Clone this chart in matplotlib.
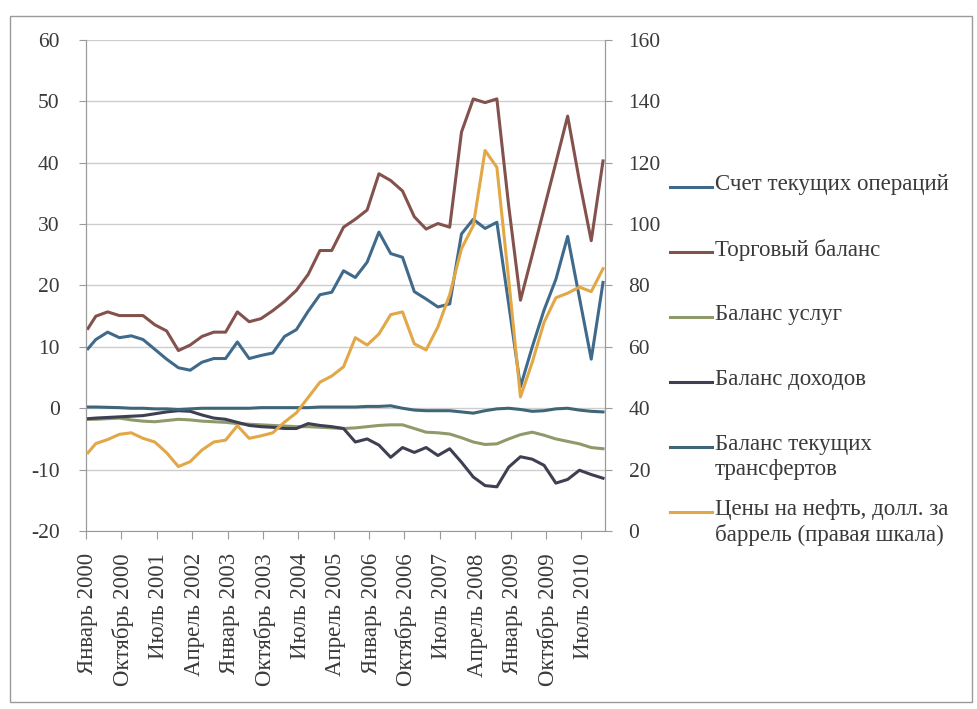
import matplotlib
matplotlib.use("Agg")
import matplotlib.pyplot as plt
from matplotlib.lines import Line2D
from matplotlib.patches import Rectangle

plt.rcParams['font.family'] = ['Liberation Serif', 'DejaVu Serif']
plt.rcParams['axes.unicode_minus'] = False

# month index (0 = январь 2000); quarterly values sit on the last month of each quarter
months = [0] + list(range(2, 132, 3))

tick_labels = ["Январь 2000", "Октябрь 2000", "Июль 2001", "Апрель 2002", "Январь 2003",
               "Октябрь 2003", "Июль 2004", "Апрель 2005", "Январь 2006", "Октябрь 2006",
               "Июль 2007", "Апрель 2008", "Январь 2009", "Октябрь 2009", "Июль 2010"]

# млрд долл. (левая шкала)
current_account = [9.7, 11.2, 12.4, 11.5, 11.8, 11.2, 9.6, 8.0, 6.6, 6.2, 7.5, 8.1, 8.1,
                   10.8, 8.1, 8.6, 9.0, 11.7, 12.8, 15.8, 18.5, 18.9, 22.4, 21.3, 23.8,
                   28.7, 25.2, 24.6, 19.0, 17.8, 16.5, 17.0, 28.4, 30.8, 29.3, 30.3, 17.0,
                   3.5, 10.0, 16.0, 21.0, 28.0, 18.0, 8.0, 20.5]
trade_balance = [13.0, 15.0, 15.7, 15.1, 15.1, 15.1, 13.6, 12.6, 9.4, 10.3, 11.7, 12.4, 12.4,
                 15.7, 14.1, 14.6, 15.9, 17.4, 19.2, 21.8, 25.7, 25.7, 29.5, 30.8, 32.3,
                 38.2, 37.1, 35.4, 31.2, 29.2, 30.1, 29.5, 45.0, 50.4, 49.8, 50.4, 33.0,
                 17.6, 25.0, 32.5, 40.0, 47.6, 37.0, 27.3, 40.3]
services = [-1.8, -1.8, -1.7, -1.6, -1.9, -2.1, -2.2, -2.0, -1.8, -1.9, -2.1, -2.2, -2.3,
            -2.5, -2.6, -2.7, -2.8, -2.9, -3.0, -3.0, -3.1, -3.2, -3.3, -3.2, -3.0,
            -2.8, -2.7, -2.7, -3.3, -3.9, -4.0, -4.2, -4.8, -5.5, -5.9, -5.8, -5.0,
            -4.3, -3.9, -4.4, -5.0, -5.4, -5.8, -6.4, -6.6]
income = [-1.7, -1.6, -1.5, -1.4, -1.3, -1.2, -0.9, -0.6, -0.4, -0.5, -1.1, -1.6, -1.8,
          -2.3, -2.8, -3.0, -3.1, -3.3, -3.3, -2.5, -2.8, -3.0, -3.3, -5.5, -5.0,
          -6.0, -8.0, -6.4, -7.2, -6.4, -7.7, -6.6, -8.8, -11.2, -12.6, -12.8, -9.6,
          -7.9, -8.3, -9.3, -12.2, -11.6, -10.1, -10.8, -11.4]
transfers = [0.2, 0.2, 0.15, 0.1, 0.0, 0.0, -0.1, -0.1, -0.2, -0.1, 0.0, 0.0, 0.0,
             0.0, 0.0, 0.1, 0.1, 0.1, 0.1, 0.1, 0.2, 0.2, 0.2, 0.2, 0.3,
             0.3, 0.4, 0.0, -0.3, -0.4, -0.4, -0.4, -0.6, -0.8, -0.4, -0.1, 0.0,
             -0.2, -0.5, -0.4, -0.1, 0.0, -0.3, -0.5, -0.6]
# долл. за баррель (правая шкала)
oil = [25.5, 28.5, 29.8, 31.5, 32.0, 30.2, 29.0, 25.5, 21.0, 22.6, 26.4, 29.0, 29.6,
       34.3, 30.2, 31.0, 32.0, 35.5, 38.5, 43.5, 48.5, 50.5, 53.5, 63.0, 60.6,
       64.2, 70.5, 71.4, 61.0, 59.0, 66.5, 77.0, 92.0, 99.5, 124.0, 118.5, 82.0,
       43.7, 55.0, 68.0, 76.0, 77.5, 79.5, 78.0, 85.5]

names = ["Счет текущих операций", "Торговый баланс", "Баланс услуг", "Баланс доходов",
         "Баланс текущих\nтрансфертов", "Цены на нефть, долл. за\nбаррель (правая шкала)"]
colors = ["#3f6a8c", "#84524c", "#8e9a6a", "#3e3f52", "#3f6579", "#e2a747"]
left_series = [current_account, trade_balance, services, income, transfers]

W, H = 978, 709
fig = plt.figure(figsize=(W / 100, H / 100), dpi=100)
fig.patches.append(Rectangle((10 / W, 1 - 702 / H), 962 / W, 686 / H,
                             transform=fig.transFigure, fill=False,
                             edgecolor="#9a9a9a", lw=1.0))

ax = fig.add_axes([86 / W, 1 - 531 / H, 519 / W, 491 / H])
ax2 = ax.twinx()

for vals, c in zip(left_series, colors[:5]):
    ax.plot(months, vals, color=c, lw=2.2, solid_joinstyle="round", zorder=3)
ax2.plot(months, oil, color=colors[5], lw=2.2, solid_joinstyle="round", zorder=3)

txt = "#3a3a3a"
ax.set_xlim(-0.5, 131.5)
ax.set_ylim(-20, 60)
ax.set_yticks(range(-20, 61, 10))
ax2.set_ylim(0, 160)
ax2.set_yticks(range(0, 161, 20))
ax.grid(axis="y", color="#cdcdcd", lw=1.0)
ax.set_axisbelow(True)

# tick marks on category boundaries, labels on the categories
ax.set_xticks([m - 0.5 for m in range(0, 132, 9)])
ax.set_xticklabels([])
ax.set_xticks(list(range(0, 132, 9)), minor=True)
ax.set_xticklabels(tick_labels, minor=True, rotation=90, fontsize=16.5, color=txt)
ax.tick_params(axis="x", which="major", length=6, color="#9a9a9a", direction="out")
ax.tick_params(axis="x", which="minor", length=0, pad=16)
ax.tick_params(axis="y", length=5, color="#9a9a9a", labelsize=15.5, labelcolor=txt, pad=14)
ax2.tick_params(axis="y", length=5, color="#9a9a9a", labelsize=15.5, labelcolor=txt, pad=12)

for a in (ax, ax2):
    a.spines["top"].set_visible(False)
    for s in ("left", "right", "bottom"):
        a.spines[s].set_color("#9a9a9a")
ax2.spines["bottom"].set_visible(False)

# legend drawn to the right of the plot, handle level with the first text line
legend_y = [187, 252, 317, 382, 447, 512]
for name, c, y in zip(names, colors, legend_y):
    fig.add_artist(Line2D([670 / W, 712 / W], [1 - y / H, 1 - y / H],
                          transform=fig.transFigure, color=c, lw=2.2))
    fig.text(715 / W, 1 - (y - 13) / H, name, fontsize=16.5, color=txt,
             va="top", ha="left", linespacing=1.25)

fig.savefig("out.png", dpi=100)
